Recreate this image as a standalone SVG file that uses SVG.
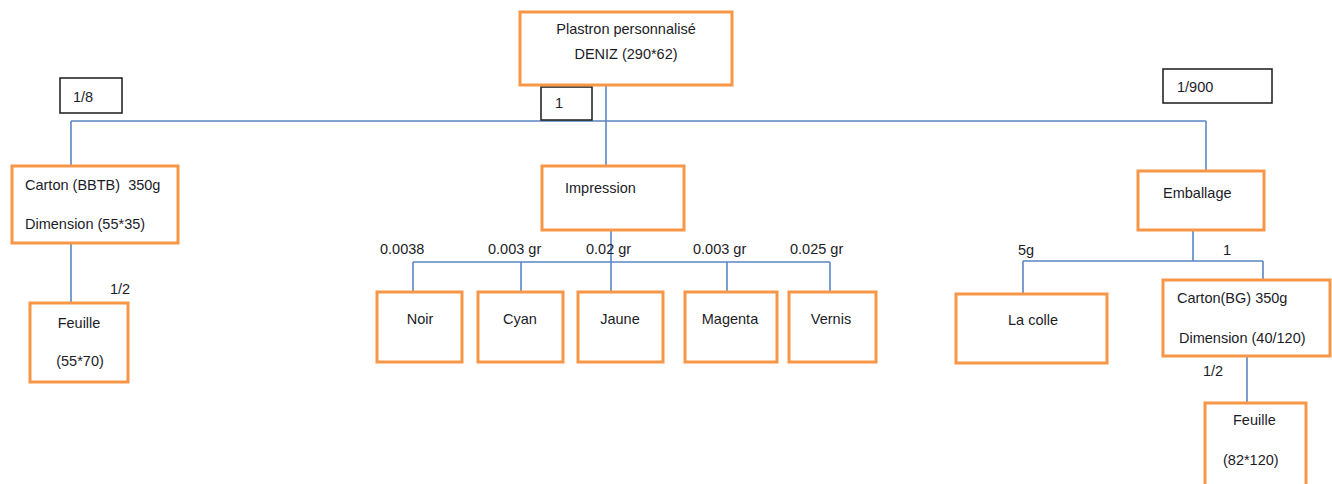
<svg xmlns="http://www.w3.org/2000/svg" width="1332" height="484" viewBox="0 0 1332 484">
<style>
.n{fill:#fff;stroke:#F79646;stroke-width:3}
.q{fill:#fff;stroke:#1a1a1a;stroke-width:1.5}
.c{fill:none;stroke:#5B87C5;stroke-width:1.6}
text{font-family:"Liberation Sans",Arial,sans-serif;font-size:14.5px;fill:#1c1c28}
.m{text-anchor:middle}
</style>
<rect width="1332" height="484" fill="#fff"/>
<g id="connectors">
<path class="c" d="M606 86V121M71 121H1206M71 121V166M1206 121V171"/>
<path class="c" d="M71 243V303"/>
<path class="c" d="M606 121V166M611 230V292M413 262H830M413 262V292M521 262V292M727 262V292M830 262V292"/>
<path class="c" d="M1193 230V261M1023 261H1263M1023 261V294M1263 261V280M1247 356V403"/>
</g>
<g id="qty-1-8"><rect class="q" x="60" y="78" width="62" height="35"/><text x="73" y="102">1/8</text></g>
<g id="qty-1"><rect class="q" x="541" y="87" width="51" height="33"/><text x="555" y="108">1</text></g>
<g id="qty-1-900"><rect class="q" x="1163" y="69" width="109" height="34"/><text x="1177" y="92">1/900</text></g>
<g id="root"><rect class="n" x="520" y="12" width="212" height="73"/><text class="m" x="626" y="34">Plastron personnalisé</text><text class="m" x="626" y="59">DENIZ (290*62)</text></g>
<g id="carton-bbtb"><rect class="n" x="12" y="166" width="166" height="77"/><text x="25" y="190" xml:space="preserve">Carton (BBTB)  350g</text><text x="25" y="229">Dimension (55*35)</text></g>
<g id="lbl-left-half"><text x="110" y="294">1/2</text></g>
<g id="feuille-left"><rect class="n" x="30" y="303" width="98" height="79"/><text class="m" x="79" y="328">Feuille</text><text class="m" x="80" y="366">(55*70)</text></g>
<g id="impression"><rect class="n" x="542" y="166" width="142" height="64"/><text x="565" y="193">Impression</text></g>
<g id="ink-labels">
<text x="380" y="254">0.0038</text><text x="488" y="254">0.003 gr</text><text x="586" y="254">0.02 gr</text><text x="693" y="254">0.003 gr</text><text x="790" y="254">0.025 gr</text>
</g>
<g id="noir"><rect class="n" x="377" y="292" width="85" height="70"/><text class="m" x="420" y="324">Noir</text></g>
<g id="cyan"><rect class="n" x="478" y="292" width="85" height="70"/><text class="m" x="520" y="324">Cyan</text></g>
<g id="jaune"><rect class="n" x="578" y="292" width="85" height="70"/><text class="m" x="620" y="324">Jaune</text></g>
<g id="magenta"><rect class="n" x="685" y="292" width="92" height="70"/><text class="m" x="730" y="324">Magenta</text></g>
<g id="vernis"><rect class="n" x="789" y="292" width="87" height="70"/><text class="m" x="831" y="324">Vernis</text></g>
<g id="emballage"><rect class="n" x="1138" y="171" width="126" height="59"/><text x="1163" y="198">Emballage</text></g>
<g id="emb-labels"><text x="1018" y="255">5g</text><text x="1223" y="255">1</text></g>
<g id="la-colle"><rect class="n" x="956" y="294" width="151" height="69"/><text x="1008" y="325">La colle</text></g>
<g id="carton-bg"><rect class="n" x="1163" y="280" width="167" height="76"/><text x="1177" y="303">Carton(BG) 350g</text><text x="1179" y="343">Dimension (40/120)</text></g>
<g id="lbl-right-half"><text x="1203" y="376">1/2</text></g>
<g id="feuille-right"><rect class="n" x="1205" y="403" width="101" height="90"/><text x="1233" y="425">Feuille</text><text x="1223" y="465">(82*120)</text></g>
</svg>
